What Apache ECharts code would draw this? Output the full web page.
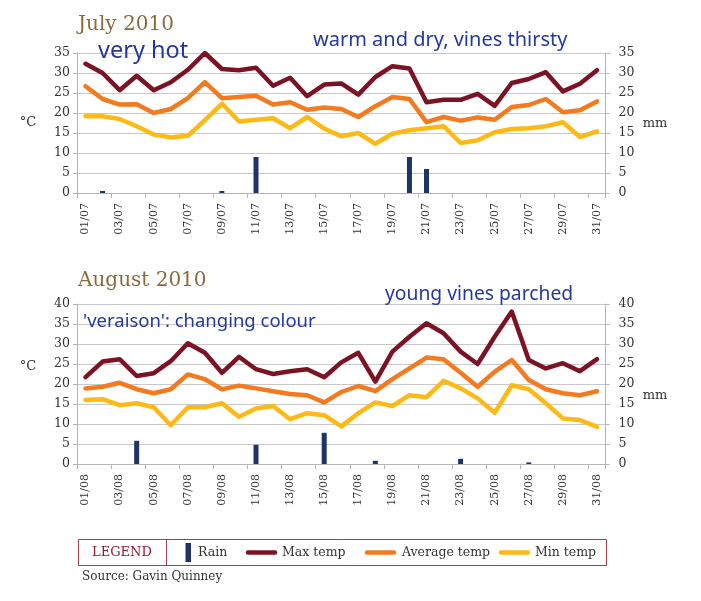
<!DOCTYPE html>
<html>
<head>
<meta charset="utf-8">
<script src="https://cdn.jsdelivr.net/npm/echarts@6/dist/echarts.min.js"></script>
<style>html,body{margin:0;padding:0;background:#fff}#c{width:701px;height:601px}</style>
</head>
<body>
<div id="c"></div>
<script>
const julyDays = ['01/07','02/07','03/07','04/07','05/07','06/07','07/07','08/07','09/07','10/07','11/07','12/07','13/07','14/07','15/07','16/07','17/07','18/07','19/07','20/07','21/07','22/07','23/07','24/07','25/07','26/07','27/07','28/07','29/07','30/07','31/07'];
const julyMax = [32.3,30.0,25.7,29.3,25.7,27.7,30.8,35.0,31.0,30.7,31.3,26.8,28.8,24.2,27.1,27.4,24.6,29.0,31.7,31.1,22.7,23.3,23.3,24.8,21.8,27.5,28.5,30.2,25.4,27.3,30.7];
const julyAvg = [26.7,23.5,22.1,22.2,20.0,21.0,23.7,27.7,23.7,24.0,24.3,22.1,22.7,20.8,21.4,21.0,19.0,21.7,24.0,23.5,17.7,19.0,18.1,18.9,18.3,21.5,22.0,23.5,20.2,20.7,22.9];
const julyMin = [19.2,19.2,18.5,16.7,14.6,13.9,14.3,18.2,22.3,17.9,18.3,18.7,16.2,19.0,16.1,14.2,15.0,12.3,14.8,15.7,16.2,16.7,12.5,13.2,15.2,16.0,16.2,16.7,17.7,14.0,15.4];
const julyRain = [0,0.5,0,0,0,0,0,0,0.5,0,9,0,0,0,0,0,0,0,0,9,6,0,0,0,0,0,0,0,0,0,0];

const augDays = ['01/08','02/08','03/08','04/08','05/08','06/08','07/08','08/08','09/08','10/08','11/08','12/08','13/08','14/08','15/08','16/08','17/08','18/08','19/08','20/08','21/08','22/08','23/08','24/08','25/08','26/08','27/08','28/08','29/08','30/08','31/08'];
const augMax = [21.7,25.6,26.2,22.0,22.7,25.7,30.2,27.8,22.8,26.8,23.7,22.5,23.2,23.7,21.7,25.4,27.8,20.6,28.1,31.8,35.2,32.7,28.1,25.0,31.8,38.1,26.0,23.9,25.2,23.2,26.2];
const augAvg = [18.9,19.3,20.3,18.7,17.7,18.7,22.4,21.2,18.7,19.6,18.9,18.2,17.5,17.2,15.4,18.0,19.5,18.2,21.2,23.9,26.6,26.2,22.8,19.3,23.1,26.0,21.0,18.7,17.7,17.2,18.2];
const augMin = [16.0,16.2,14.7,15.2,14.2,9.7,14.2,14.2,15.2,11.8,13.9,14.5,11.2,12.7,12.2,9.4,12.7,15.4,14.5,17.2,16.7,20.8,18.9,16.4,12.8,19.7,18.7,15.2,11.4,11.0,9.3];
const augRain = [0,0,0,5.8,0,0,0,0,0,0,4.8,0,0,0,7.8,0,0,0.8,0,0,0,0,1.3,0,0,0,0.4,0,0,0,0];

const tempAxisMax = [35, 40];
const legendNames = ['Rain', 'Max temp', 'Average temp', 'Min temp'];

const C = {max:'#7b1324', avg:'#f47a20', min:'#fdb915', rain:'#1f3466', grid:'#c8c8c8', axis:'#b4b4b4', label:'#333333', title:'#8a6a3c', note:'#25399a', legend:'#8c1f2e'};
const SERIF = '"DejaVu Serif", serif';
const HAND = '"Noto Sans", sans-serif';

const chart = echarts.init(document.getElementById('c'), null, {renderer:'canvas'});

const grids = [
  {left:77, width:528.5, top:53, height:140},
  {left:77, width:528.5, top:304, height:160}
];
const xAxes = [julyDays, augDays].map((d, i) => ({
  type:'category', gridIndex:i, data:d, boundaryGap:true,
  axisLine:{show:true, lineStyle:{color:C.axis}},
  axisTick:{show:true, interval:1, length:5, lineStyle:{color:C.axis}},
  axisLabel:{interval:1, rotate:90, margin:10, fontFamily:SERIF, fontSize:11, color:C.label},
  splitLine:{show:false}
}));
const yAxes = [];
[0,1].forEach(i => {
  yAxes.push({
    type:'value', gridIndex:i, min:0, max:tempAxisMax[i], interval:5, position:'left',
    axisLine:{show:true, lineStyle:{color:C.axis}},
    axisTick:{show:true, length:4, lineStyle:{color:C.axis}},
    axisLabel:{margin:7, fontFamily:SERIF, fontSize:12.5, color:C.label},
    splitLine:{show:true, lineStyle:{color:C.grid, width:1}}
  });
  yAxes.push({
    type:'value', gridIndex:i, min:0, max:tempAxisMax[i], interval:5, position:'right',
    axisLine:{show:true, lineStyle:{color:C.axis}},
    axisTick:{show:true, length:4, lineStyle:{color:C.axis}},
    axisLabel:{margin:13, fontFamily:SERIF, fontSize:12.5, color:C.label},
    splitLine:{show:false}
  });
});

function lineSeries(name, data, color, gi) {
  return {type:'line', name, data, xAxisIndex:gi, yAxisIndex:gi*2, showSymbol:false, symbol:'none',
    smooth:false, color, lineStyle:{color, width:4.5, cap:'round', join:'round'}, z:3, silent:true};
}
function barSeries(name, data, gi) {
  return {type:'bar', name, data, xAxisIndex:gi, yAxisIndex:gi*2+1, barWidth:5, color:C.rain,
    itemStyle:{color:C.rain}, z:2, silent:true};
}
const series = [
  barSeries(legendNames[0], julyRain, 0),
  lineSeries(legendNames[3], julyMin, C.min, 0),
  lineSeries(legendNames[2], julyAvg, C.avg, 0),
  lineSeries(legendNames[1], julyMax, C.max, 0),
  barSeries(legendNames[0], augRain, 1),
  lineSeries(legendNames[3], augMin, C.min, 1),
  lineSeries(legendNames[2], augAvg, C.avg, 1),
  lineSeries(legendNames[1], augMax, C.max, 1)
];

function txt(text, x, y, size, fam, fill, align) {
  return {type:'text', z:10, style:{text, x, y, fontSize:size, fontFamily:fam, fill, align:align||'left', verticalAlign:'middle'}};
}
const graphic = [
  txt('July 2010', 78, 25, 20, SERIF, C.title),
  txt('August 2010', 78, 280.5, 20, SERIF, C.title),
  txt('°C', 28, 123, 13, SERIF, C.label, 'center'),
  txt('°C', 28, 367, 13, SERIF, C.label, 'center'),
  txt('mm', 655, 124, 13, SERIF, C.label, 'center'),
  txt('mm', 655, 396, 13, SERIF, C.label, 'center'),
  txt('very hot', 98, 51, 23.5, HAND, C.note),
  txt('warm and dry, vines thirsty', 313, 40, 20, HAND, C.note),
  txt("'veraison': changing colour", 83, 322, 18.5, HAND, C.note),
  txt('young vines parched', 385, 295, 19.3, HAND, C.note),
  {type:'rect', z:10, shape:{x:78.5, y:539.5, width:528, height:26}, style:{fill:'none', stroke:'#a0404c', lineWidth:1}},
  {type:'line', z:10, shape:{x1:166.5, y1:539.5, x2:166.5, y2:565.5}, style:{stroke:'#a0404c', lineWidth:1}},
  txt('LEGEND', 122, 552.5, 13, SERIF, C.legend, 'center'),
  {type:'rect', z:10, shape:{x:185.5, y:543, width:5.5, height:19}, style:{fill:C.rain}},
  txt(legendNames[0], 198, 552.5, 12.5, SERIF, C.label),
  {type:'line', z:10, shape:{x1:248, y1:552.5, x2:275, y2:552.5}, style:{stroke:C.max, lineWidth:4.5, lineCap:'round'}},
  txt(legendNames[1], 282, 552.5, 12.5, SERIF, C.label),
  {type:'line', z:10, shape:{x1:367, y1:552.5, x2:394, y2:552.5}, style:{stroke:C.avg, lineWidth:4.5, lineCap:'round'}},
  txt(legendNames[2], 402, 552.5, 12.5, SERIF, C.label),
  {type:'line', z:10, shape:{x1:501, y1:552.5, x2:528, y2:552.5}, style:{stroke:C.min, lineWidth:4.5, lineCap:'round'}},
  txt(legendNames[3], 535, 552.5, 12.5, SERIF, C.label),
  txt('Source: Gavin Quinney', 82, 577, 12, SERIF, C.label)
];

chart.setOption({
  animation:false,
  backgroundColor:'#ffffff',
  grid:grids, xAxis:xAxes, yAxis:yAxes, series, graphic
});
</script>
</body>
</html>
